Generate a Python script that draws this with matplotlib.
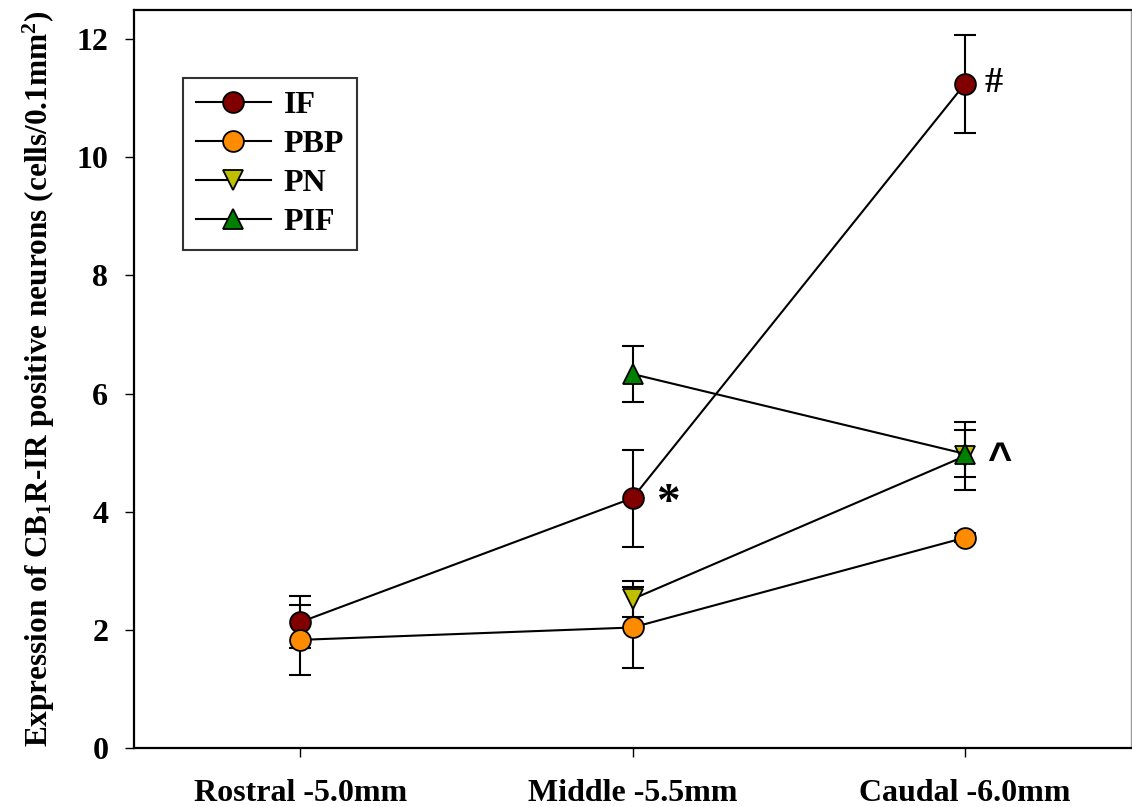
import numpy as np
import matplotlib
matplotlib.use("Agg")
import matplotlib.pyplot as plt

# CB1R-IR positive neuron counts per level (mean, SEM)
levels = ["Rostral -5.0mm", "Middle -5.5mm", "Caudal -6.0mm"]

if_mean = [2.13, 4.23, 11.24]
if_err = [0.44, 0.82, 0.83]

pbp_mean = [1.83, 2.04, 3.56]
pbp_err = [0.59, 0.68, 0.08]

pn_mean = [np.nan, 2.52, 4.94]
pn_err = [np.nan, 0.30, 0.58]

pif_mean = [np.nan, 6.33, 4.98]
pif_err = [np.nan, 0.47, 0.40]

# significance marks: (level index, value, symbol)
marks = [(1, 4.23, "*"), (2, 11.24, "#"), (2, 4.98, "^")]
# per-symbol style: font family, size, x/y offset in points
mark_style = {
    "*": ("Liberation Serif", 34, 17, -4),
    "#": ("Liberation Serif", 26, 14, 0),
    "^": ("Liberation Sans", 30, 16, -5),
}

plt.rcParams["font.family"] = ["Liberation Serif", "DejaVu Serif"]
plt.rcParams["font.weight"] = "bold"
plt.rcParams["mathtext.fontset"] = "custom"
plt.rcParams["mathtext.rm"] = "Liberation Serif:bold"
plt.rcParams["mathtext.bf"] = "Liberation Serif:bold"
plt.rcParams["mathtext.it"] = "Liberation Serif:bold"

fig = plt.figure(figsize=(11.32, 8.07), dpi=100)
ax = fig.add_axes([134 / 1132, 59 / 807, 997 / 1132, 738.5 / 807])

x = np.arange(len(levels))
series = [
    ("IF", if_mean, if_err, "o", "#800000"),
    ("PBP", pbp_mean, pbp_err, "o", "#ff8c00"),
    ("PN", pn_mean, pn_err, "v", "#bfbf00"),
    ("PIF", pif_mean, pif_err, "^", "#008000"),
]

for name, mean, err, mk, col in series:
    mean = np.array(mean, dtype=float)
    ok = ~np.isnan(mean)
    ax.errorbar(x[ok], mean[ok], yerr=np.array(err, dtype=float)[ok],
                fmt="none", ecolor="black", elinewidth=1.5,
                capsize=8, capthick=1.5, zorder=2)
    ax.plot(x[ok], mean[ok], color="black", linewidth=1.5, marker=mk,
            markersize=15, markerfacecolor=col, markeredgecolor="black",
            markeredgewidth=1.3, label=name, zorder=3)

for i, val, sym in marks:
    fam, size, dx, dy = mark_style[sym]
    ax.annotate(sym, (x[i], val), xytext=(dx, dy), textcoords="offset points",
                fontsize=size, fontweight="bold", family=fam,
                ha="left", va="center")

ax.set_xlim(-0.5, 2.5)
ax.set_ylim(0, 12.5)
ax.set_xticks(x)
ax.set_xticklabels(levels)
ax.set_yticks(np.arange(0, 13, 2))
ax.tick_params(axis="both", direction="out", length=6.5, width=1,
               labelsize=23, top=False, right=False)
ax.tick_params(axis="y", pad=12)
ax.tick_params(axis="x", pad=16)
for lbl in ax.get_xticklabels() + ax.get_yticklabels():
    lbl.set_fontweight("bold")

for side in ["left", "bottom", "top"]:
    ax.spines[side].set_linewidth(1.6)
ax.spines["right"].set_linewidth(1.0)
ax.spines["right"].set_color("#999999")

ax.set_ylabel(r"Expression of CB$_{1}$R-IR positive neurons (cells/0.1mm$^{2}$)",
              fontsize=22.5, fontweight="bold", labelpad=14)

leg = ax.legend(loc="upper left", bbox_to_anchor=(0.049, 0.907),
                borderaxespad=0, fontsize=23, frameon=True, fancybox=False,
                handlelength=2.35, borderpad=0.4, labelspacing=0.3,
                handletextpad=0.4)
leg.get_frame().set_edgecolor("black")
leg.get_frame().set_linewidth(1.5)
for t in leg.get_texts():
    t.set_fontweight("bold")

fig.savefig("out.png", dpi=100)
